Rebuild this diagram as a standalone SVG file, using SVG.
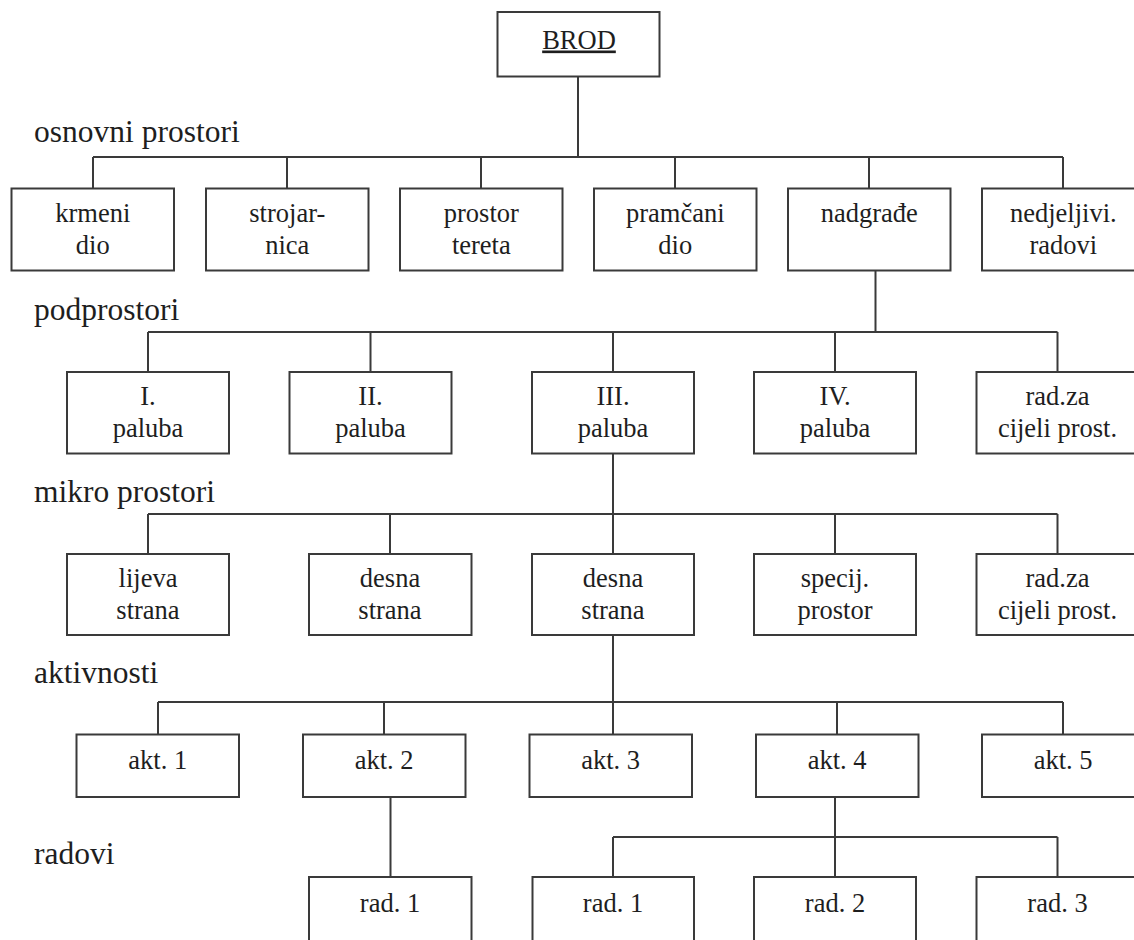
<svg xmlns="http://www.w3.org/2000/svg" width="1134" height="940" viewBox="0 0 1134 940">
<style>
.b{fill:#fff;stroke:#3a3a3a;stroke-width:2}
.c{fill:none;stroke:#3a3a3a;stroke-width:2}
text{font-family:'Liberation Serif','Times New Roman',Tinos,'Nimbus Roman','DejaVu Serif',serif;fill:#1e1e1e}
.t{font-size:26.5px;text-anchor:middle}
.l{font-size:31.5px}
</style>
<rect width="1134" height="940" fill="#fff"/>
<g id="connectors">
<path class="c" d="M578 77V157M93 157H1063M93 157V188M287 157V188M481 157V188M675 157V188M869 157V188M1063 157V188"/>
<path class="c" d="M875.5 271V332M148 332H1057.5M148 332V372M370.5 332V372M613 332V372M835 332V372M1057.5 332V372"/>
<path class="c" d="M613 453V554M148 514H1057.5M148 514V554M390 514V554M835 514V554M1057.5 514V554"/>
<path class="c" d="M613 635V734M158 702H1063M158 702V734M384 702V734M837 702V734M1063 702V734"/>
<path class="c" d="M390.5 797V877M835 797V877M613 837H1057.5M613 837V877M1057.5 837V877"/>
</g>
<g id="labels">
<text class="l" x="34" y="142">osnovni prostori</text>
<text class="l" x="34" y="320">podprostori</text>
<text class="l" x="34" y="502">mikro prostori</text>
<text class="l" x="34" y="683">aktivnosti</text>
<text class="l" x="34" y="864">radovi</text>
</g>
<g id="brod"><rect class="b" x="497.5" y="12" width="162" height="64.5"/><text class="t" x="579" y="48.5" text-decoration="underline">BROD</text></g>
<g id="krmeni"><rect class="b" x="11.5" y="188.5" width="162.5" height="82"/><text class="t" x="92.8" y="222">krmeni</text><text class="t" x="92.8" y="253.5">dio</text></g>
<g id="strojarnica"><rect class="b" x="206" y="188.5" width="162.5" height="82"/><text class="t" x="287.3" y="222">strojar-</text><text class="t" x="287.3" y="253.5">nica</text></g>
<g id="prostor-tereta"><rect class="b" x="400" y="188.5" width="162.5" height="82"/><text class="t" x="481.3" y="222">prostor</text><text class="t" x="481.3" y="253.5">tereta</text></g>
<g id="pramcani"><rect class="b" x="594" y="188.5" width="162.5" height="82"/><text class="t" x="675.3" y="222">pramčani</text><text class="t" x="675.3" y="253.5">dio</text></g>
<g id="nadgrade"><rect class="b" x="788" y="188.5" width="162.5" height="82"/><text class="t" x="869.3" y="222">nadgrađe</text></g>
<g id="nedjeljivi"><rect class="b" x="982" y="188.5" width="162.5" height="82"/><text class="t" x="1063.3" y="222">nedjeljivi.</text><text class="t" x="1063.3" y="253.5">radovi</text></g>
<g id="paluba1"><rect class="b" x="67" y="372" width="162" height="81.5"/><text class="t" x="148" y="405">I.</text><text class="t" x="148" y="437">paluba</text></g>
<g id="paluba2"><rect class="b" x="289.5" y="372" width="162" height="81.5"/><text class="t" x="370.5" y="405">II.</text><text class="t" x="370.5" y="437">paluba</text></g>
<g id="paluba3"><rect class="b" x="532" y="372" width="162" height="81.5"/><text class="t" x="613" y="405">III.</text><text class="t" x="613" y="437">paluba</text></g>
<g id="paluba4"><rect class="b" x="754" y="372" width="162" height="81.5"/><text class="t" x="835" y="405">IV.</text><text class="t" x="835" y="437">paluba</text></g>
<g id="radza1"><rect class="b" x="976.5" y="372" width="162" height="81.5"/><text class="t" x="1057.5" y="405">rad.za</text><text class="t" x="1057.5" y="437">cijeli prost.</text></g>
<g id="lijeva"><rect class="b" x="67" y="554" width="162" height="81"/><text class="t" x="148" y="587">lijeva</text><text class="t" x="148" y="618.5">strana</text></g>
<g id="desna1"><rect class="b" x="309" y="554" width="162.5" height="81"/><text class="t" x="390" y="587">desna</text><text class="t" x="390" y="618.5">strana</text></g>
<g id="desna2"><rect class="b" x="532" y="554" width="162" height="81"/><text class="t" x="613" y="587">desna</text><text class="t" x="613" y="618.5">strana</text></g>
<g id="specij"><rect class="b" x="754" y="554" width="162" height="81"/><text class="t" x="835" y="587">specij.</text><text class="t" x="835" y="618.5">prostor</text></g>
<g id="radza2"><rect class="b" x="976.5" y="554" width="162" height="81"/><text class="t" x="1057.5" y="587">rad.za</text><text class="t" x="1057.5" y="618.5">cijeli prost.</text></g>
<g id="akt1"><rect class="b" x="76.5" y="734.5" width="162.5" height="62.5"/><text class="t" x="157.8" y="768.5">akt. 1</text></g>
<g id="akt2"><rect class="b" x="303" y="734.5" width="162.5" height="62.5"/><text class="t" x="384.2" y="768.5">akt. 2</text></g>
<g id="akt3"><rect class="b" x="529.5" y="734.5" width="162.5" height="62.5"/><text class="t" x="610.7" y="768.5">akt. 3</text></g>
<g id="akt4"><rect class="b" x="756" y="734.5" width="162.5" height="62.5"/><text class="t" x="837.2" y="768.5">akt. 4</text></g>
<g id="akt5"><rect class="b" x="982" y="734.5" width="162.5" height="62.5"/><text class="t" x="1063.2" y="768.5">akt. 5</text></g>
<g id="rad1a"><rect class="b" x="309" y="877" width="162.5" height="80"/><text class="t" x="390" y="912">rad. 1</text></g>
<g id="rad1b"><rect class="b" x="532.5" y="877" width="161.5" height="80"/><text class="t" x="613" y="912">rad. 1</text></g>
<g id="rad2"><rect class="b" x="754" y="877" width="162" height="80"/><text class="t" x="835" y="912">rad. 2</text></g>
<g id="rad3"><rect class="b" x="976.5" y="877" width="162" height="80"/><text class="t" x="1057.5" y="912">rad. 3</text></g>
</svg>
